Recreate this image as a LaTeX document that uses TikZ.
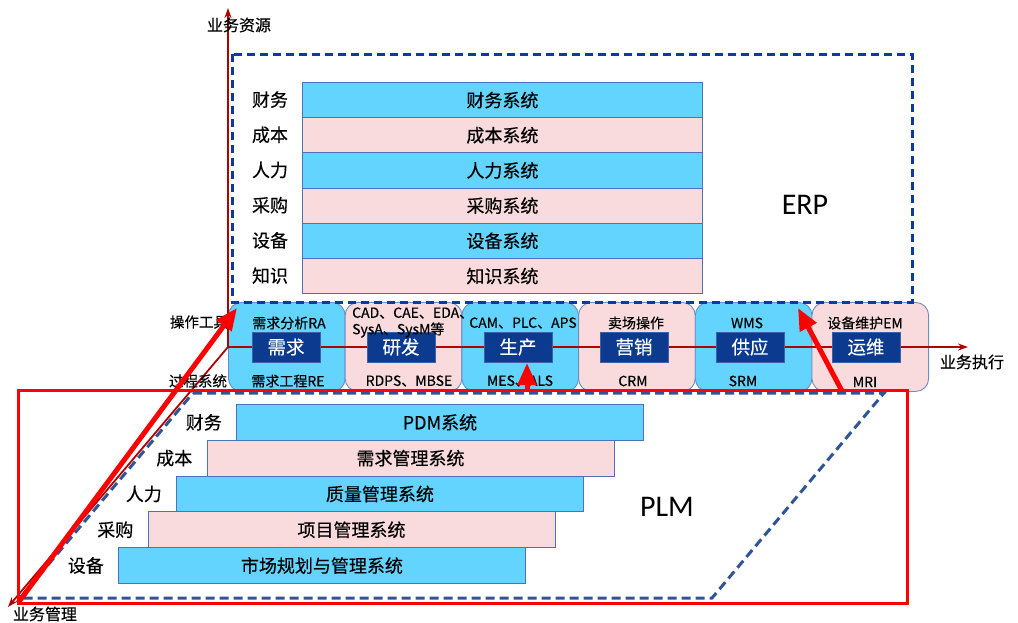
\documentclass[tikz,border=0pt]{standalone}
\usepackage{fontspec}
\setmainfont{Noto Sans CJK SC}[FakeBold=0.35]
\newfontfamily\latinf{Carlito}
\usetikzlibrary{arrows.meta}
\definecolor{cyanfill}{HTML}{62D4FD}
\definecolor{pinkfill}{HTML}{FADBDD}
\definecolor{barborder}{HTML}{4F71B5}
\definecolor{erpblue}{HTML}{0B3B9C}
\definecolor{plmblue}{HTML}{2F5597}
\definecolor{boxblue}{HTML}{0C3A8E}
\definecolor{axisred}{HTML}{B00000}
\definecolor{brightred}{HTML}{FF0000}
\definecolor{panelborder}{HTML}{6C8CC4}
\begin{document}
\begin{tikzpicture}[x=1pt,y=-1pt,
  lbl/.style={font=\fontsize{18}{20}\selectfont, inner sep=0pt},
  axlbl/.style={font=\fontsize{16}{18}\selectfont, inner sep=0pt},
  barbox/.style={draw=barborder, line width=0.9pt, anchor=north west, inner sep=0pt,
    font=\fontsize{18}{20}\selectfont, minimum height=35.2pt, minimum width=400pt},
  plmbar/.style={barbox, minimum height=35.8pt, minimum width=407pt},
  panel/.style={draw=panelborder, line width=0.9pt, rounded corners=13pt, anchor=north west,
    minimum width=116.7pt, minimum height=89pt, inner sep=0pt},
  inbox/.style={fill=boxblue, draw=boxblue!80!white, line width=0.6pt, minimum width=68pt,
    minimum height=30pt, inner sep=0pt, text=white, font=\fontsize{18.5}{20}\selectfont},
  small/.style={font=\fontsize{14}{15}\selectfont, inner sep=0pt},
  axis/.style={draw=axisred, line width=1.8pt, -{Stealth[length=10pt,width=7pt]}},
  erpdash/.style={draw=erpblue, line width=3pt, dash pattern=on 8pt off 5pt},
  plmdash/.style={draw=plmblue, line width=3pt, dash pattern=on 9pt off 5pt},
  redframe/.style={draw=brightred, line width=3pt},
  bigarrow/.style={draw=brightred, line width=5pt, -{Triangle[length=22pt,width=18pt]}},
  bigtitle/.style={font=\latinf\fontsize{30}{32}\selectfont, inner sep=0pt}
]
\useasboundingbox (0,0) rectangle (1018,622);

% ---------- ERP bars ----------
\node[barbox, fill=cyanfill] (e1) at (302,82) {财务系统};
\node[barbox, fill=pinkfill] (e2) at (302,117.2) {成本系统};
\node[barbox, fill=cyanfill] (e3) at (302,152.4) {人力系统};
\node[barbox, fill=pinkfill] (e4) at (302,187.6) {采购系统};
\node[barbox, fill=cyanfill] (e5) at (302,222.8) {设备系统};
\node[barbox, fill=pinkfill] (e6) at (302,258) {知识系统};
\node[lbl] (el1) at (270,99.6) {财务};
\node[lbl] (el2) at (270,134.8) {成本};
\node[lbl] (el3) at (270,170) {人力};
\node[lbl] (el4) at (270,205.2) {采购};
\node[lbl] (el5) at (270,240.4) {设备};
\node[lbl] (el6) at (270,275.6) {知识};
\node[bigtitle] (erp) at (805,205) {ERP};

% ---------- middle panels ----------
\node[panel, fill=cyanfill] (p1) at (228,302) {};
\node[panel, fill=pinkfill] (p2) at (344.7,302) {};
\node[panel, fill=cyanfill] (p3) at (461.4,302) {};
\node[panel, fill=pinkfill] (p4) at (578.1,302) {};
\node[panel, fill=cyanfill] (p5) at (694.8,302) {};
\node[panel, fill=pinkfill] (p6) at (811.5,302) {};

% ---------- ERP dashed frame ----------
\draw[erpdash] (232,54) rectangle (912,302);

% ---------- PLM dashed parallelogram ----------
\draw[plmdash] (193,393) -- (884,393) -- (712,598) -- (20,598) -- cycle;

% ---------- PLM bars ----------
\node[plmbar, fill=cyanfill] (m1) at (236,404) {PDM系统};
\node[plmbar, fill=pinkfill] (m2) at (206.5,439.8) {需求管理系统};
\node[plmbar, fill=cyanfill] (m3) at (176,475.6) {质量管理系统};
\node[plmbar, fill=pinkfill] (m4) at (147.5,511.4) {项目管理系统};
\node[plmbar, fill=cyanfill] (m5) at (118,547.2) {市场规划与管理系统};
\node[lbl, anchor=east] (ml1) at ([xshift=-14pt]m1.west) {财务};
\node[lbl, anchor=east] (ml2) at ([xshift=-14pt]m2.west) {成本};
\node[lbl, anchor=east] (ml3) at ([xshift=-14pt]m3.west) {人力};
\node[lbl, anchor=east] (ml4) at ([xshift=-14pt]m4.west) {采购};
\node[lbl, anchor=east] (ml5) at ([xshift=-14pt]m5.west) {设备};
\node[bigtitle] (plm) at (667,507) {PLM};

% ---------- axes ----------
\coordinate (O) at (228,347);
\coordinate (Ytop) at (228,8);
\coordinate (Xend) at (968,347);
\coordinate (Zend) at (8,607);
\draw[axis] (O) -- (Ytop);
\draw[axis] (O) -- (Xend);
\draw[axis] (O) -- (Zend);

% ---------- inner boxes ----------
\node[inbox] (b1) at (286,347) {需求};
\node[inbox] (b2) at (401,347) {研发};
\node[inbox] (b3) at (518,347) {生产};
\node[inbox] (b4) at (634,347) {营销};
\node[inbox] (b5) at (750,347) {供应};
\node[inbox] (b6) at (866,347) {运维};

% ---------- panel texts ----------
\node[small] (t1) at (289,323) {需求分析RA};
\node[small, anchor=west] (t2a) at (352,313) {CAD、CAE、EDA、};
\node[small, anchor=west] (t2b) at (352,330) {SysA、SysM等};
\node[small] (t3) at (523,323) {CAM、PLC、APS};
\node[small] (t4) at (636,323) {卖场操作};
\node[small] (t5) at (747,323) {WMS};
\node[small] (t6) at (865,323) {设备维护EM};
\node[small] (u1) at (288,381) {需求工程RE};
\node[small] (u2) at (409,381) {RDPS、MBSE};
\node[small] (u3) at (520,381) {MES、ALS};
\node[small] (u4) at (633,381) {CRM};
\node[small] (u5) at (743,381) {SRM};
\node[small] (u6) at (865,382) {MRI};

% ---------- axis labels ----------
\node[axlbl] (ya) at (239,25) {业务资源};
\node[axlbl] (xa) at (972,362) {业务执行};
\node[axlbl] (za) at (45,614) {业务管理};
\node[small, font=\fontsize{14.5}{15}\selectfont] (op) at (199,322) {操作工具};
\node[small, font=\fontsize{14.5}{15}\selectfont] (ps) at (198,381) {过程系统};

% ---------- red frame and arrows ----------
\coordinate (R1) at (18,603);
\coordinate (R2) at (907,390);
\draw[redframe] (R1) rectangle (R2);
\coordinate (A1) at (237,308);
\coordinate (S2) at (842,391);
\coordinate (A2) at (798,308);
\coordinate (S3) at (527,391);
\coordinate (A3) at (527,363);
\draw[bigarrow] (R1) -- (A1);
\draw[bigarrow] (S2) -- (A2);
\draw[bigarrow] (S3) -- (A3);
\end{tikzpicture}
\end{document}
